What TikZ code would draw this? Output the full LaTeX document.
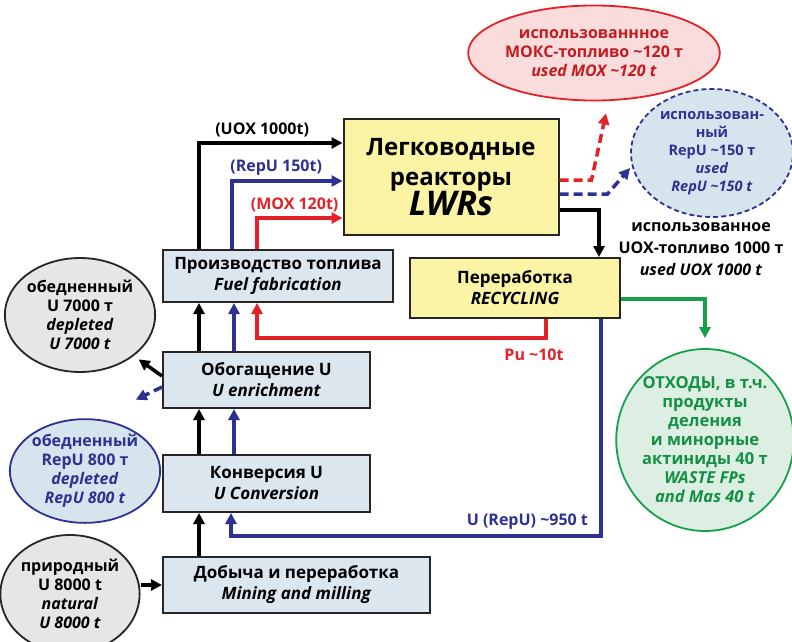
\documentclass[tikz,border=0pt]{standalone}
\usepackage{fontspec}
\setmainfont{Open Sans}
\usepackage{tikz}
\usetikzlibrary{arrows.meta}
\usetikzlibrary{shapes.geometric}
\usetikzlibrary{calc}

\definecolor{stagefill}{HTML}{DCE6EE}
\definecolor{lwrfill}{HTML}{FBF4A5}
\definecolor{flowred}{HTML}{E42127}
\definecolor{flowblue}{HTML}{2E3192}
\definecolor{flowgreen}{HTML}{16A04C}
\definecolor{pinkfill}{HTML}{FADCDC}
\definecolor{skyfill}{HTML}{D6E4EE}
\definecolor{greyfill}{HTML}{E6E6E6}
\definecolor{mintfill}{HTML}{DDEFE3}

\tikzset{
  stage/.style={draw=black!85, line width=2pt, fill=stagefill, align=center, inner sep=0pt,
    font=\fontsize{17}{21}\selectfont\bfseries},
  stock/.style={ellipse, line width=1.8pt, align=center, inner sep=0pt,
    font=\fontsize{16}{19}\selectfont\bfseries},
  flow/.style={line width=3.5pt, -{Triangle[length=11pt,width=11pt]}},
  dashflow/.style={flow, dash pattern=on 9pt off 5pt},
  tag/.style={font=\fontsize{16}{20}\selectfont\bfseries, align=center}
}

\begin{document}
\begin{tikzpicture}[x=1pt,y=-1pt]
\useasboundingbox[fill=white] (0,0) rectangle (792,642);

\node[stage, fill=lwrfill, font=\fontsize{24}{30}\selectfont\bfseries, minimum width=215pt, minimum height=116pt] (lwr) at (451,177)
  {Легководные\\реакторы\\[-1pt]{\fontsize{34}{36}\selectfont\itshape LWRs}};
\node[stage, minimum width=230pt, minimum height=52pt] (fab) at (278,276)
  {Производство топлива\\\textit{Fuel fabrication}};
\node[stage, fill=lwrfill, minimum width=210pt, minimum height=60pt] (rec) at (515,288)
  {Переработка\\\textit{RECYCLING}};
\node[stage, minimum width=207pt, minimum height=56pt] (enr) at (266.5,380)
  {Обогащение U\\\textit{U enrichment}};
\node[stage, minimum width=207pt, minimum height=57pt] (conv) at (266.5,483.5)
  {Конверсия U\\\textit{U Conversion}};
\node[stage, minimum width=267pt, minimum height=56pt] (mine) at (296.5,585)
  {Добыча и переработка\\\textit{Mining and milling}};

\node[stock, draw=flowred, fill=pinkfill, text=flowred!85!black, minimum width=192pt, minimum height=95pt] (mox) at (594,53)
  {использованнное\\МОКС-топливо \textasciitilde120 т\\\textit{used MOX \textasciitilde120 t}};
\node[stock, draw=flowblue, fill=skyfill, text=flowblue, dash pattern=on 5pt off 3pt, font=\fontsize{14.5}{18}\selectfont\bfseries, minimum width=162pt, minimum height=128pt] (repu) at (712,153)
  {использован-\\ный\\RepU \textasciitilde150 т\\\textit{used}\\\textit{RepU \textasciitilde150 t}};
\node[stock, draw=black!85, fill=greyfill, minimum width=144pt, minimum height=114pt] (depu) at (80,315)
  {обедненный\\U 7000 т\\\textit{depleted}\\\textit{U 7000 t}};
\node[stock, draw=flowblue, fill=skyfill, text=flowblue, minimum width=146pt, minimum height=102pt] (deprepu) at (85,471)
  {обедненный\\RepU 800 т\\\textit{depleted}\\\textit{RepU 800 t}};
\node[stock, draw=black!85, fill=greyfill, minimum width=122pt, minimum height=118pt] (natu) at (70,594)
  {природный\\U 8000 t\\\textit{natural}\\\textit{U 8000 t}};
\node[stock, draw=flowgreen, fill=mintfill, text=flowgreen!90!black, font=\fontsize{16.5}{19}\selectfont\bfseries, minimum width=176pt, minimum height=182pt] (waste) at (705,440)
  {ОТХОДЫ, в т.ч.\\продукты\\деления\\и минорные\\актиниды 40 т\\\textit{WASTE FPs}\\\textit{and Mas 40 t}};
\node[tag, font=\fontsize{16}{22}\selectfont\bfseries] (uoxused) at (701,249)
  {использованное\\UOX-топливо 1000 т\\\textit{used UOX 1000 t}};

\draw[flow] ($(fab.north west)+(37,0)$) |- ($(lwr.north west)+(0,25)$)
  node[tag, pos=.72, above=1pt] {(UOX 1000t)};
\draw[flow, flowblue] ($(fab.north west)+(70,0)$) |- ($(lwr.north west)+(0,63)$)
  node[tag, pos=.7, above=1pt] {(RepU 150t)};
\draw[flow, flowred] ($(fab.north west)+(95,0)$) |- ($(lwr.north west)+(0,100)$)
  node[tag, pos=.72, above=1pt] {(MOX 120t)};

\draw[dashflow, flowred] ($(lwr.north east)+(0,62)$) -- ++(32,0) -- ($(mox.south)+(12,12)$);
\draw[dashflow, flowblue] ($(lwr.north east)+(0,76)$) -- ++(48,0) -- ($(repu.west)+(0,15)$);
\draw[flow] ($(lwr.north east)+(0,92)$) -| ($(rec.north west)+(190,0)$);

\draw[flow, flowred] ($(rec.south west)+(137,0)$) -- ++(0,19) -| ($(fab.south west)+(95,0)$);
\node[tag, text=flowred] (pu) at (534,355) {Pu \textasciitilde10t};
\draw[flow, flowblue] ($(rec.south west)+(192,0)$) |- ($(conv.south west)+(69,23)$)
  node[tag, pos=.5, anchor=south east, xshift=-8pt, yshift=2pt, text=flowblue] {U (RepU) \textasciitilde950 t}
  -- ($(conv.south west)+(69,0)$);
\draw[flow, flowgreen] ($(rec.north east)+(0,42)$) -| ($(waste.north)+(0,-10)$);

\draw[flow] ($(enr.north west)+(37,0)$) -- ($(fab.south west)+(37,0)$);
\draw[flow, flowblue] ($(enr.north west)+(72,0)$) -- ($(fab.south west)+(72,0)$);
\draw[flow] ($(conv.north west)+(37,0)$) -- ($(enr.south west)+(37,0)$);
\draw[flow, flowblue] ($(conv.north west)+(72,0)$) -- ($(enr.south west)+(72,0)$);
\draw[flow] ($(mine.north west)+(37,0)$) -- ($(conv.south west)+(37,0)$);

\draw[flow, shorten >=6pt] ($(enr.west)+(0,-4)$) -- (depu.south east);
\draw[dashflow, flowblue] ($(enr.west)+(0,7)$) -- ($(deprepu.north east)+(-3,-34)$);
\draw[flow] (natu.east |- mine.west) -- (mine.west);
\end{tikzpicture}
\end{document}
